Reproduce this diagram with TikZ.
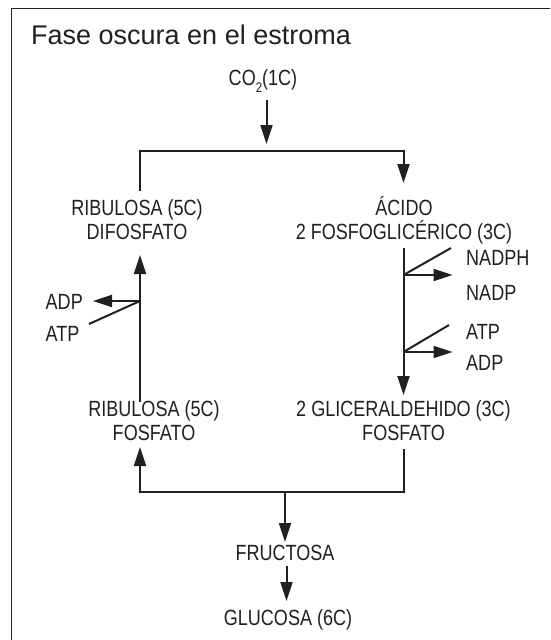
\documentclass[tikz,border=0pt]{standalone}
\usepackage{fontspec}
\setmainfont{Liberation Sans}
\newfontfamily\narrowfont{Liberation Sans}[FakeStretch=0.82]
\usetikzlibrary{arrows.meta}
\definecolor{ink}{HTML}{231F20}
\begin{document}
\begin{tikzpicture}[x=1pt,y=-1pt,
  lbl/.style={font=\narrowfont\fontsize{22}{23.5}\selectfont, text=ink, inner sep=0pt, anchor=base, align=center},
  lbll/.style={lbl, anchor=base west, align=left},
  conn/.style={draw=ink, line width=2pt},
  arr/.style={conn, -{Triangle[length=19pt,width=12pt]}}]
\useasboundingbox (0,0) rectangle (550,640);
% frame (top and left edges only)
\coordinate (fbl) at (11.5,640);
\coordinate (ftl) at (11.5,8.5);
\coordinate (ftr) at (550,8.5);
\draw[draw=ink, line width=1.8pt] (fbl) -- (ftl) -- (ftr);
% texts (multi-line nodes: base = last line's baseline)
\node[anchor=base west, font=\fontsize{27}{30}\selectfont, text=ink, inner sep=0pt] (title) at (31,44) {Fase oscura en el estroma};
\node[lbl] (co2) at (263,85) {CO\raisebox{-0.32em}{\fontsize{14}{14}\selectfont 2}(1C)};
\node[lbl] (rdp) at (137,239) {RIBULOSA (5C)\\DIFOSFATO};
\node[lbl] (apg) at (404,239) {ÁCIDO\\2 FOSFOGLICÉRICO (3C)};
\node[lbl] (rp) at (154,440) {RIBULOSA (5C)\\FOSFATO};
\node[lbl] (gal) at (403.5,440) {2 GLICERALDEHIDO (3C)\\FOSFATO};
\node[lbl] (fru) at (285,560) {FRUCTOSA};
\node[lbl] (glu) at (288,625) {GLUCOSA (6C)};
\node[lbll] (adpL) at (45.5,309) {ADP};
\node[lbll] (atpL) at (45.5,341) {ATP};
\node[lbll] (nadph) at (466,265) {NADPH};
\node[lbll] (nadp) at (466,300) {NADP};
\node[lbll] (atpR) at (466,339) {ATP};
\node[lbll] (adpR) at (466,370) {ADP};
% junction coordinates
\coordinate (co2s) at (266.5,100);
\coordinate (co2e) at (266.5,144);
\coordinate (brL) at (140,151);
\coordinate (brR) at (403.5,151);
\coordinate (rdpN) at (140,191);
\coordinate (apgN) at (403.5,183);
\coordinate (rdpS) at (140,255);
\coordinate (rpN) at (140,402);
\coordinate (jL) at (140,301);
\coordinate (adpLe) at (93,301);
\coordinate (atpLs) at (89,324);
\coordinate (apgS) at (403.5,248);
\coordinate (galN) at (403.5,395);
\coordinate (j1) at (403.5,275);
\coordinate (nadphS) at (451,248);
\coordinate (nadpE) at (452.5,275);
\coordinate (j2) at (403.5,352);
\coordinate (atpRs) at (449,325);
\coordinate (adpRe) at (452.5,352);
\coordinate (galS) at (403.5,449);
\coordinate (bR) at (403.5,492);
\coordinate (bL) at (140,492);
\coordinate (bM) at (285,492);
\coordinate (rpS) at (140,447);
\coordinate (fruN) at (285,542);
\coordinate (fruS) at (286.5,566);
\coordinate (gluN) at (286.5,601);
% connectors
\draw[arr] (co2s) -- (co2e);
\draw[arr] (rdpN) -- (brL) -- (brR) -- (apgN);
\draw[arr] (rpN) -- (rdpS);
\draw[arr] (jL) -- (adpLe);
\draw[conn] (atpLs) -- (jL);
\draw[arr] (apgS) -- (galN);
\draw[conn] (nadphS) -- (j1);
\draw[arr] (j1) -- (nadpE);
\draw[conn] (atpRs) -- (j2);
\draw[arr] (j2) -- (adpRe);
\draw[arr] (galS) -- (bR) -- (bL) -- (rpS);
\draw[arr] (bM) -- (fruN);
\draw[arr] (fruS) -- (gluN);
\end{tikzpicture}
\end{document}
